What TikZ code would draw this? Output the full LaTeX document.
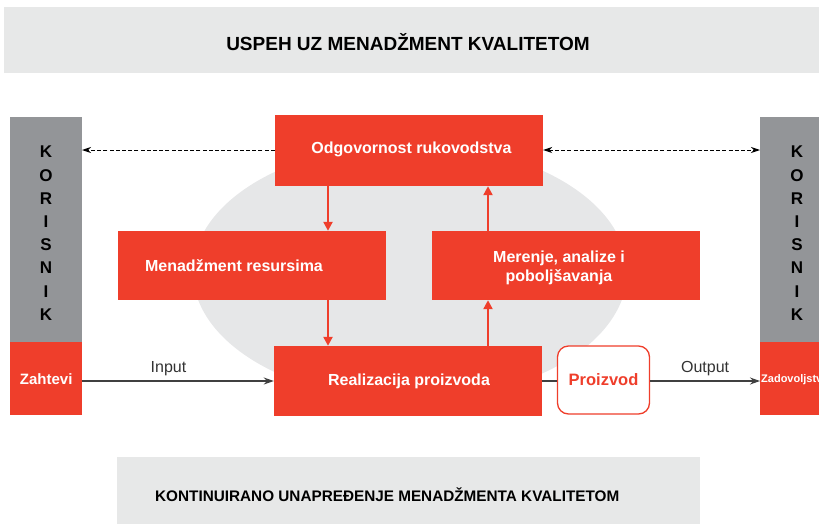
\documentclass[tikz,border=0pt]{standalone}
\usepackage{fontspec}
\setmainfont{Liberation Sans}
\usetikzlibrary{arrows.meta}
\definecolor{qred}{HTML}{EF3E2B}
\definecolor{qgray}{HTML}{939598}
\definecolor{qlight}{HTML}{E7E8E8}
\definecolor{qell}{HTML}{E6E7E8}
\tikzset{
  redbox/.style={fill=qred, draw=none, text=white, font=\bfseries\fontsize{16}{19}\selectfont, align=center, inner sep=0pt},
  redarrow/.style={draw=qred, line width=2.6pt, -{Triangle[length=9pt,width=9pt]}},
  dasharrow/.style={draw=black, line width=1pt, dash pattern=on 4pt off 2.2pt},
  flow/.style={draw=black!75, line width=1.3pt},
  lbl/.style={font=\fontsize{16}{19}\selectfont, text=black!80},
  letter/.style={font=\bfseries\fontsize{17}{19}\selectfont},
}
\begin{document}
\begin{tikzpicture}[x=1pt,y=-1pt]
\useasboundingbox (0,0) rectangle (819,525);
% banners
\fill[qlight] (4,7) rectangle (819,73);
\node (title) at (408,42) {\fontsize{19}{22}\selectfont\bfseries USPEH UZ MENADŽMENT KVALITETOM};
\fill[qlight] (117,457) rectangle (700,524);
\node[anchor=west, inner sep=0pt] (bottom) at (155,495) {\fontsize{15.3}{18}\selectfont\bfseries KONTINUIRANO UNAPREĐENJE MENADŽMENTA KVALITETOM};
% ellipse
\fill[qell] (410,272) ellipse [x radius=217, y radius=128];
% left column
\fill[qgray] (10,117) rectangle (82,342);
\node[redbox, minimum width=72pt, minimum height=73pt, anchor=north west, font=\bfseries\fontsize{15}{18}\selectfont] (zah) at (10,342) {Zahtevi};
\coordinate (kl) at (82,150);
\foreach \l [count=\i from 0] in {K,O,R,I,S,N,I,K} {
  \node[letter] at (46,{152+\i*23.2}) {\l};
}
% right column
\fill[qgray] (760,117) rectangle (819,342);
\node[redbox, minimum width=59pt, minimum height=73pt, anchor=north west] (zad) at (760,342) {};
\begin{scope}
\clip (760,342) rectangle (819,415);
\node[anchor=west, text=white, font=\bfseries\fontsize{11}{13}\selectfont, inner sep=0pt] at (761,380) {Zadovoljstvo};
\end{scope}
\coordinate (kr) at (760,150);
\foreach \l [count=\i from 0] in {K,O,R,I,S,N,I,K} {
  \node[letter] at (797,{152+\i*23.2}) {\l};
}
% boxes
\node[redbox, minimum width=268pt, minimum height=71pt] (odg) at (409,150.5) {};
\node[text=white, font=\bfseries\fontsize{16}{19}\selectfont, inner sep=0pt] at (411.5,149) {Odgovornost rukovodstva};
\node[redbox, minimum width=268pt, minimum height=69pt] (res) at (252,265.5) {};
\node[text=white, font=\bfseries\fontsize{16}{19}\selectfont, inner sep=0pt] at (234,266) {Menadžment resursima};
\node[redbox, minimum width=268pt, minimum height=69pt] (mer) at (566,265.5) {};
\node[text=white, font=\bfseries\fontsize{16}{19}\selectfont, align=center, inner sep=0pt] at (559,268) {Merenje, analize i\\poboljšavanja};
\node[redbox, minimum width=268pt, minimum height=70pt] (real) at (408,381) {};
\node[text=white, font=\bfseries\fontsize{16}{19}\selectfont, inner sep=0pt] at (409,381) {Realizacija proizvoda};
\node[draw=qred, line width=1.3pt, fill=white, rounded corners=11pt, minimum width=92pt, minimum height=68pt, text=qred, font=\bfseries\fontsize{16.5}{19}\selectfont] (pro) at (603.5,380) {Proizvod};
% red arrows
\draw[redarrow] (odg.south -| 328,0) -- (res.north -| 328,0);
\draw[redarrow] (res.south -| 328,0) -- (real.north -| 328,0);
\draw[redarrow] (real.north -| 488,0) -- (mer.south -| 488,0);
\draw[redarrow] (mer.north -| 488,0) -- (odg.south -| 488,0);
% dashed arrows
\draw[dasharrow, -{Stealth[length=9pt,width=6pt]}] (odg.west |- kl) -- (kl);
\draw[dasharrow, {Stealth[length=9pt,width=6pt]}-{Stealth[length=9pt,width=6pt]}] (odg.east |- kr) -- (kr);
% flow
\draw[flow, -{Stealth[length=10pt,width=7pt]}] (zah.east |- 0,381) -- node[lbl, above=1pt, pos=0.45] {Input} (real.west |- 0,381);
\draw[flow] (real.east |- 0,381) -- (pro.west |- 0,381);
\draw[flow, -{Stealth[length=10pt,width=7pt]}] (pro.east |- 0,381) -- node[lbl, above=1pt] {Output} (zad.west |- 0,381);
\end{tikzpicture}
\end{document}
